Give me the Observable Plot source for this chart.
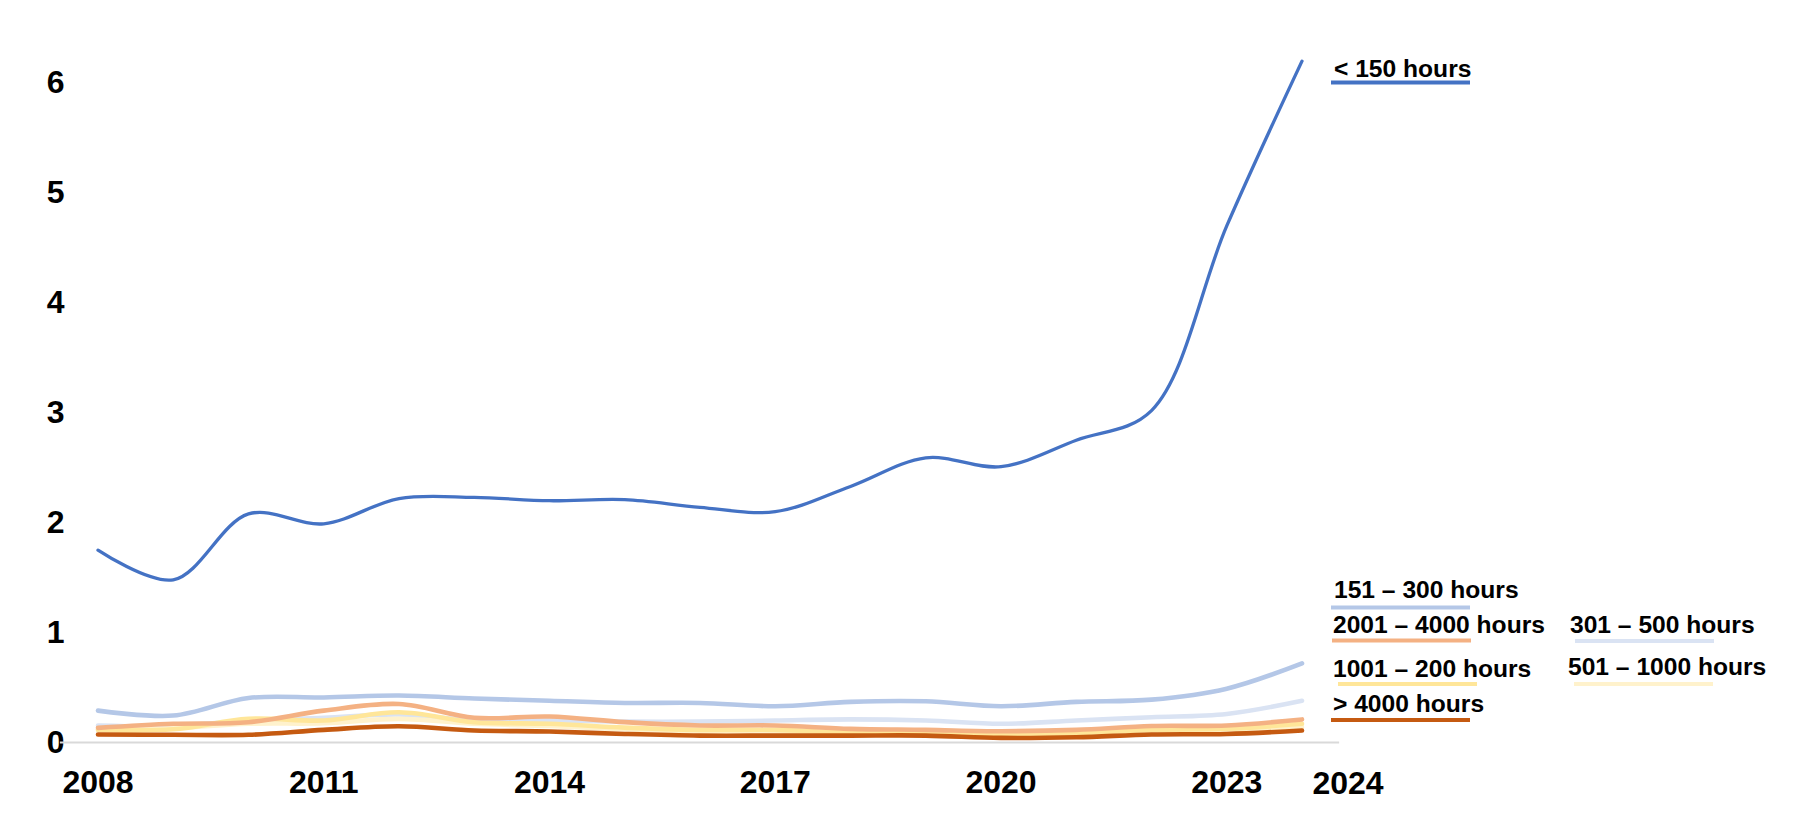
<!DOCTYPE html>
<html>
<head>
<meta charset="utf-8">
<script src="https://cdn.jsdelivr.net/npm/d3@7"></script>
<script src="https://cdn.jsdelivr.net/npm/@observablehq/plot@0.6"></script>
<style>
  html, body { margin: 0; padding: 0; background: #fff; }
  #chart svg { display: block; }
</style>
</head>
<body>
<div id="chart"></div>
<script>
// ---- data ----
const years = [2008, 2009, 2010, 2011, 2012, 2013, 2014, 2015, 2016, 2017, 2018, 2019, 2020, 2021, 2022, 2023, 2024];
const xTickYears = [2008, 2011, 2014, 2017, 2020, 2023];
const extraYearLabel = [2024];
const yTicks = [0, 1, 2, 3, 4, 5, 6];

const seriesNames = ["< 150 hours", "151 – 300 hours", "301 – 500 hours", "501 – 1000 hours", "1001 – 200 hours", "2001 – 4000 hours", "> 4000 hours"];
const seriesColors = ["#4472c4", "#b4c7e7", "#dae3f3", "#fff2cc", "#ffe699", "#f4b183", "#c55a11"];

const under150   = [1.75, 1.48, 2.08, 1.99, 2.22, 2.23, 2.20, 2.21, 2.14, 2.10, 2.33, 2.59, 2.51, 2.75, 3.02, 4.70, 6.20];
const h151to300  = [0.29, 0.245, 0.405, 0.41, 0.427, 0.40, 0.38, 0.36, 0.36, 0.33, 0.37, 0.375, 0.33, 0.37, 0.39, 0.49, 0.72];
const h301to500  = [0.155, 0.15, 0.20, 0.225, 0.255, 0.20, 0.20, 0.19, 0.19, 0.20, 0.21, 0.20, 0.17, 0.20, 0.23, 0.26, 0.38];
const h501to1000 = [0.12, 0.13, 0.17, 0.175, 0.215, 0.17, 0.15, 0.12, 0.10, 0.10, 0.085, 0.08, 0.07, 0.078, 0.10, 0.11, 0.14];
const h1001to2000 = [0.115, 0.12, 0.215, 0.20, 0.275, 0.185, 0.17, 0.135, 0.115, 0.115, 0.09, 0.088, 0.078, 0.085, 0.115, 0.125, 0.17];
const h2001to4000 = [0.133, 0.17, 0.185, 0.29, 0.35, 0.225, 0.236, 0.185, 0.155, 0.155, 0.124, 0.115, 0.103, 0.115, 0.15, 0.155, 0.21];
const over4000   = [0.073, 0.07, 0.07, 0.115, 0.148, 0.109, 0.10, 0.078, 0.063, 0.063, 0.063, 0.063, 0.042, 0.048, 0.073, 0.078, 0.109];

const seriesValues = [under150, h151to300, h301to500, h501to1000, h1001to2000, h2001to4000, over4000];

// long table built from the arrays
const rows = seriesNames.flatMap((name, s) =>
  years.map((year, i) => ({series: name, year, value: seriesValues[s][i]}))
);

// drawing order (back to front)
const drawOrder = ["151 – 300 hours", "301 – 500 hours", "501 – 1000 hours", "1001 – 200 hours", "2001 – 4000 hours", "> 4000 hours", "< 150 hours"];

const font = "'Liberation Sans', Arial, Helvetica, sans-serif";

const lineMarks = drawOrder.map(name =>
  Plot.line(rows.filter(d => d.series === name), {
    x: "year", y: "value", stroke: "series",
    curve: "catmull-rom",
    strokeWidth: name === "< 150 hours" ? 3.3 : 4.6,
    strokeLinecap: "round", strokeLinejoin: "round"
  })
);

const chart = Plot.plot({
  width: 1798,
  height: 822,
  marginLeft: 70,
  marginRight: 0,
  marginTop: 0,
  marginBottom: 80,
  style: {fontFamily: font, fontSize: "32px", fontWeight: "bold", color: "#000", background: "#fff", overflow: "visible"},
  x: {type: "linear", domain: [2008, 2024], range: [97.5, 1301.5], label: null},
  y: {domain: [0, 6], range: [742, 82.6], label: null},
  color: {domain: seriesNames, range: seriesColors},
  marks: [
    Plot.axisY({ticks: yTicks, tickSize: 0, tickPadding: 6, tickFormat: d => String(d), fontSize: 32, fontWeight: "bold", fill: "#000", label: null}),
    Plot.axisX({ticks: xTickYears, tickSize: 0, tickPadding: 28, tickFormat: d => String(d), fontSize: 32, fontWeight: "bold", fill: "#000", label: null}),
    Plot.text(extraYearLabel, {x: d => d, y: () => 0, text: d => String(d), dx: 46, dy: 51, lineAnchor: "bottom", textAnchor: "middle", fontSize: 32, fontWeight: "bold", fill: "#000"}),
    Plot.ruleY([0], {x1: 2007.5, x2: 2024.5, stroke: "#d9d9d9", strokeWidth: 2.2}),
    ...lineMarks
  ]
});

document.getElementById("chart").appendChild(chart);

// ---- legend (drawn beside the lines, outside the plotting frame) ----
const legendLayout = [
  // [series, lineX, lineY, textX, textBaseline]
  ["< 150 hours", 1331, 82.5, 1334, 76.5],
  ["151 – 300 hours", 1331, 607.5, 1334, 598],
  ["2001 – 4000 hours", 1332, 640.5, 1333, 633],
  ["301 – 500 hours", 1575, 641, 1570, 633],
  ["1001 – 200 hours", 1338, 684, 1333, 677],
  ["501 – 1000 hours", 1574, 684, 1568, 675],
  ["> 4000 hours", 1331, 720, 1333, 712]
];
const svg = d3.select(chart);
const g = svg.append("g").attr("class", "legend").attr("text-anchor", "start");
legendLayout.forEach(([name, lx, ly, tx, ty]) => {
  const color = seriesColors[seriesNames.indexOf(name)];
  g.append("line")
    .attr("x1", lx).attr("x2", lx + 139)
    .attr("y1", ly).attr("y2", ly)
    .attr("stroke", color).attr("stroke-width", 4);
  g.append("text")
    .attr("x", tx).attr("y", ty)
    .attr("text-anchor", "start")
    .attr("font-family", font)
    .attr("font-size", 24.6)
    .attr("font-weight", "bold")
    .attr("fill", "#000")
    .text(name);
});
</script>
</body>
</html>
